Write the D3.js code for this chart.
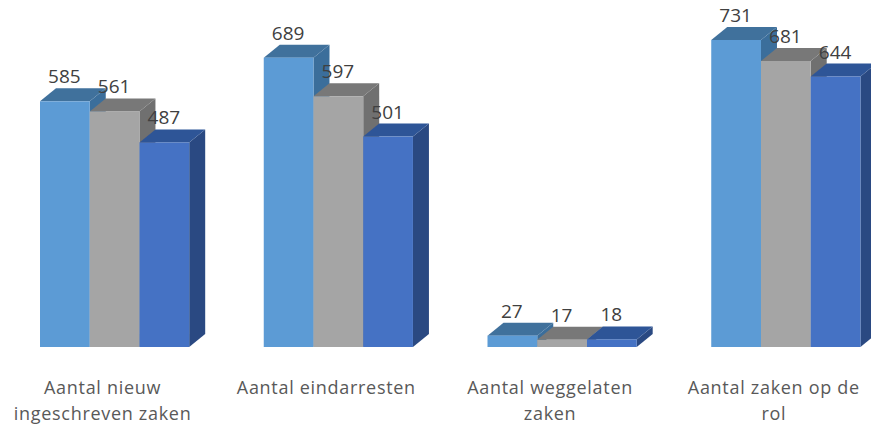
<!DOCTYPE html>
<html><head><meta charset="utf-8">
<script src="https://cdnjs.cloudflare.com/ajax/libs/d3/7.8.5/d3.min.js"></script>
<style>html,body{margin:0;background:#fff}svg{display:block}text{font-family:"Open Sans","Noto Sans",sans-serif}</style>
</head><body><svg id="c" width="871" height="429"></svg>
<script>
const categories=[["Aantal nieuw","ingeschreven zaken"],["Aantal eindarresten"],["Aantal weggelaten","zaken"],["Aantal zaken op de","rol"]];
const seriesA=[585,689,27,731];
const seriesB=[561,597,17,681];
const seriesC=[487,501,18,644];
const seriesColors=[
 {front:"#5b9bd5",top:"#41719c",side:"#3b6e9b"},
 {front:"#a5a5a5",top:"#787878",side:"#6f6f6f"},
 {front:"#4472c4",top:"#2f5597",side:"#2b4a82"}];
const W=871,H=429,base=347,dx=16,dy=13;
const svg=d3.select("#c");
svg.append("defs").append("filter").attr("id","b").attr("x","-5%").attr("y","-5%").attr("width","110%").attr("height","110%")
  .append("feGaussianBlur").attr("stdDeviation",0.6);
const x0=d3.scaleBand().domain(d3.range(categories.length)).range([40,935]).paddingInner(0).paddingOuter(0).align(0);
const groupW=149.2;
const x1=d3.scaleBand().domain([0,1,2]).range([0,groupW]);
const y=d3.scaleLinear().domain([0,731]).range([base,40]);
const all=[seriesA,seriesB,seriesC];
const marks=svg.append("g").attr("filter","url(#b)");
categories.forEach((c,i)=>{
 [0,1,2].forEach(s=>{
  const v=all[s][i],xl=x0(i)+x1(s),w=x1.bandwidth(),xr=xl+w,t=y(v),col=seriesColors[s];
  const g=marks.append("g");
  g.append("path").attr("fill",col.side).attr("d",d3.line()([[xr,t],[xr+dx,t-dy],[xr+dx,base-dy],[xr,base]]));
  g.append("path").attr("fill",col.top).attr("d",d3.line()([[xl,t],[xl+dx,t-dy],[xr+dx,t-dy],[xr,t]]));
  g.append("rect").attr("x",xl).attr("y",t).attr("width",w).attr("height",base-t).attr("fill",col.front);
 });
});
const labels=svg.append("g");
categories.forEach((c,i)=>{
 [0,1,2].forEach(s=>{
  const v=all[s][i];
  labels.append("text").attr("x",x0(i)+x1(s)+x1.bandwidth()/2-0.5).attr("y",y(v)-18).attr("text-anchor","middle")
   .attr("font-size",19).attr("fill","#404040").text(v);
 });
 const cx=x0(i)+groupW/2-12;
 c.forEach((line,j)=>{
  labels.append("text").attr("x",cx).attr("y",394+j*26).attr("text-anchor","middle")
   .attr("font-size",18).attr("letter-spacing","0.7").attr("fill","#595959").text(line);
 });
});
</script></body></html>
